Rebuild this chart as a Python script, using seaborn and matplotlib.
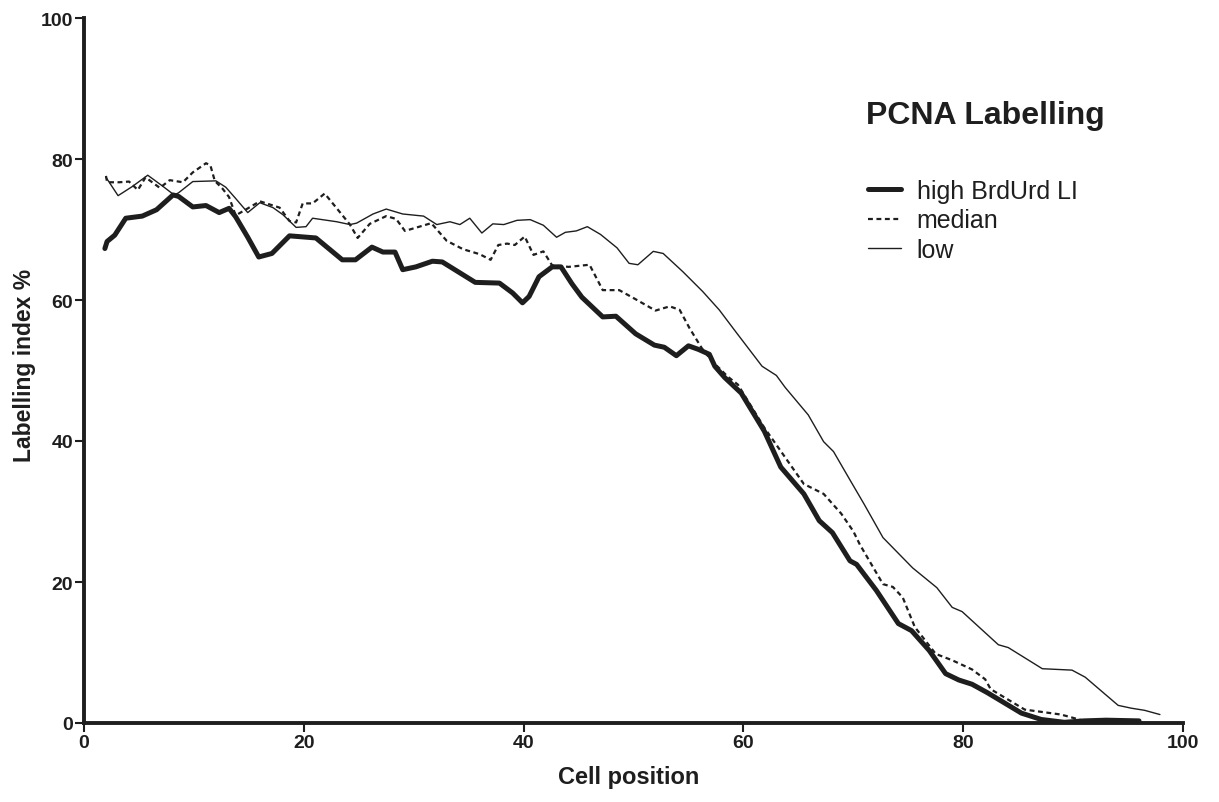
import matplotlib
matplotlib.use('Agg')
import matplotlib.pyplot as plt
import seaborn as sns

high_x = [1.9, 2.1, 2.8, 3.8, 5.3, 6.6, 8.1, 8.6, 9.9, 11.1, 12.3, 13.2, 13.8, 14.9, 15.9,
          17.1, 18.7, 21.1, 23.5, 24.7, 26.2, 27.2, 28.3, 29.0, 30.2, 31.7, 32.6, 35.6, 37.8,
          39.0, 39.9, 40.5, 41.4, 42.6, 43.4, 44.4, 45.3, 47.2, 48.4, 50.2, 51.9, 52.8, 53.9,
          55.0, 55.9, 56.9, 57.4, 58.3, 59.8, 61.9, 63.4, 65.5, 66.9, 68.1, 69.7, 70.3, 72.1,
          74.1, 75.3, 76.9, 78.4, 79.6, 80.8, 82.2, 83.7, 85.3, 87.1, 89.2, 91.0, 93.0, 96.0]
high_y = [67.3, 68.3, 69.2, 71.6, 71.9, 72.8, 74.9, 74.7, 73.2, 73.4, 72.4, 73.0, 71.8, 68.9, 66.1,
          66.6, 69.1, 68.8, 65.7, 65.7, 67.5, 66.8, 66.8, 64.3, 64.7, 65.5, 65.4, 62.5, 62.4,
          61.0, 59.6, 60.5, 63.3, 64.7, 64.7, 62.3, 60.4, 57.6, 57.7, 55.2, 53.6, 53.3, 52.1,
          53.5, 53.0, 52.3, 50.6, 49.0, 46.8, 41.4, 36.3, 32.5, 28.7, 27.0, 23.0, 22.5, 18.8,
          14.1, 13.1, 10.3, 7.0, 6.1, 5.5, 4.3, 2.9, 1.4, 0.5, 0.1, 0.3, 0.4, 0.3]

median_x = [2.0, 2.1, 3.2, 4.1, 4.9, 5.6, 6.9, 7.8, 9.0, 9.9, 11.1, 11.5, 11.9, 12.6, 13.2,
            13.8, 14.8, 16.0, 17.8, 18.7, 19.3, 19.9, 20.8, 21.9, 23.0, 24.2, 24.9, 26.0, 27.5,
            28.4, 29.2, 30.3, 31.6, 33.0, 34.5, 36.0, 37.0, 37.7, 38.5, 39.2, 40.1, 40.9, 41.8,
            42.6, 44.1, 46.0, 47.2, 48.7, 50.2, 52.0, 53.3, 54.2, 55.1, 56.2, 57.1, 58.6, 59.5,
            61.9, 65.5, 67.3, 68.9, 70.0, 70.6, 72.7, 73.6, 74.5, 75.6, 77.5, 79.0, 80.8, 82.0,
            82.5, 85.6, 88.9, 91.0, 94.0, 96.0]
median_y = [77.6, 76.7, 76.7, 76.8, 75.6, 77.4, 75.9, 77.0, 76.7, 78.1, 79.4, 79.1, 76.9, 75.8, 74.6,
            72.0, 72.9, 74.0, 73.1, 71.2, 71.0, 73.7, 73.7, 75.1, 73.0, 70.7, 68.8, 70.8, 71.9,
            71.5, 69.8, 70.3, 70.9, 68.4, 67.2, 66.5, 65.7, 67.8, 68.0, 67.8, 69.0, 66.4, 66.9,
            64.9, 64.7, 65.0, 61.4, 61.4, 60.1, 58.5, 59.1, 58.6, 56.0, 53.2, 51.4, 49.1, 48.0,
            41.9, 33.9, 32.5, 29.7, 27.2, 25.3, 19.7, 19.3, 17.8, 13.6, 9.8, 8.9, 7.6, 6.2,
            4.8, 1.9, 1.2, 0.3, 0.2, 0.2]

low_x = [2.0, 3.1, 4.4, 5.8, 7.2, 8.2, 8.6, 9.9, 12.0, 12.9, 13.8, 14.9, 16.0, 17.2, 18.1,
         19.3, 20.2, 20.8, 23.0, 24.2, 24.8, 26.3, 27.5, 29.0, 30.9, 32.1, 33.3, 34.2, 35.1,
         36.2, 37.2, 38.2, 39.4, 40.6, 41.8, 43.0, 43.8, 44.8, 45.8, 47.0, 48.5, 49.6, 50.4,
         51.8, 52.7, 54.5, 56.3, 57.8, 59.3, 61.7, 63.0, 63.8, 65.9, 67.3, 68.2, 69.8, 71.0,
         72.7, 75.4, 77.6, 79.0, 79.9, 83.2, 84.1, 87.2, 89.9, 91.1, 94.1, 95.3, 96.5, 97.9]
low_y = [77.4, 74.8, 76.1, 77.7, 76.1, 74.9, 75.2, 76.8, 76.9, 76.0, 74.4, 72.4, 73.8, 73.1, 72.1,
         70.3, 70.4, 71.6, 71.1, 70.7, 70.9, 72.2, 72.9, 72.2, 71.9, 70.7, 71.1, 70.7, 71.6,
         69.5, 70.8, 70.7, 71.3, 71.4, 70.6, 68.9, 69.6, 69.8, 70.4, 69.3, 67.4, 65.2, 65.0,
         66.9, 66.6, 64.0, 61.2, 58.6, 55.5, 50.6, 49.3, 47.6, 43.7, 39.9, 38.5, 34.2, 31.0,
         26.3, 22.0, 19.2, 16.4, 15.8, 11.1, 10.7, 7.7, 7.5, 6.5, 2.5, 2.1, 1.8, 1.2]

ticks = [0, 20, 40, 60, 80, 100]

sns.set_theme(style='ticks')
plt.rcParams['font.family'] = ['Liberation Sans', 'DejaVu Sans']

ink = '#1e1e1e'
fig = plt.figure(figsize=(12.19, 8.03), dpi=100)
ax = fig.add_axes([84 / 1219, 1 - 724 / 803, 1099 / 1219, 705 / 803])

sns.lineplot(x=high_x, y=high_y, ax=ax, color=ink, linewidth=3.6, estimator=None,
             label='high BrdUrd LI', solid_joinstyle='round', solid_capstyle='round')
sns.lineplot(x=median_x, y=median_y, ax=ax, color=ink, linewidth=1.6, estimator=None,
             label='median', linestyle='--')
ax.lines[-1].set_dashes((2.2, 1.6))
sns.lineplot(x=low_x, y=low_y, ax=ax, color=ink, linewidth=1.0, estimator=None, label='low')

ax.set_xlim(0, 100)
ax.set_ylim(0, 100)
ax.set_xticks(ticks)
ax.set_yticks(ticks)
ax.tick_params(axis='both', direction='out', length=6.5, width=1.5, color=ink,
               labelsize=14, labelcolor=ink, pad=1.5)
for lab in ax.get_xticklabels() + ax.get_yticklabels():
    lab.set_fontweight('bold')

sns.despine(ax=ax)
for side in ['left', 'bottom']:
    ax.spines[side].set_linewidth(2.8)
    ax.spines[side].set_color(ink)

ax.set_xlabel('')
ax.set_ylabel('')
fig.text(629 / 1219, 1 - 778 / 803, 'Cell position', ha='center', va='center',
         fontsize=17, fontweight='bold', color=ink)
fig.text(25 / 1219, 1 - 365 / 803, 'Labelling index %', ha='center', va='center',
         rotation=90, fontsize=16.5, fontweight='bold', color=ink)
fig.text(985 / 1219, 1 - 116 / 803, 'PCNA Labelling', ha='center', va='center',
         fontsize=23, fontweight='bold', color=ink)

leg = ax.legend(loc='upper left', bbox_to_anchor=(868 / 1219, 1 - 180 / 803),
                bbox_transform=fig.transFigure, frameon=False, fontsize=18,
                handlelength=1.3, handletextpad=0.65, labelspacing=0.22,
                borderpad=0, borderaxespad=0)
for t in leg.get_texts():
    t.set_color(ink)

fig.savefig('out.png', dpi=100, facecolor='white')
